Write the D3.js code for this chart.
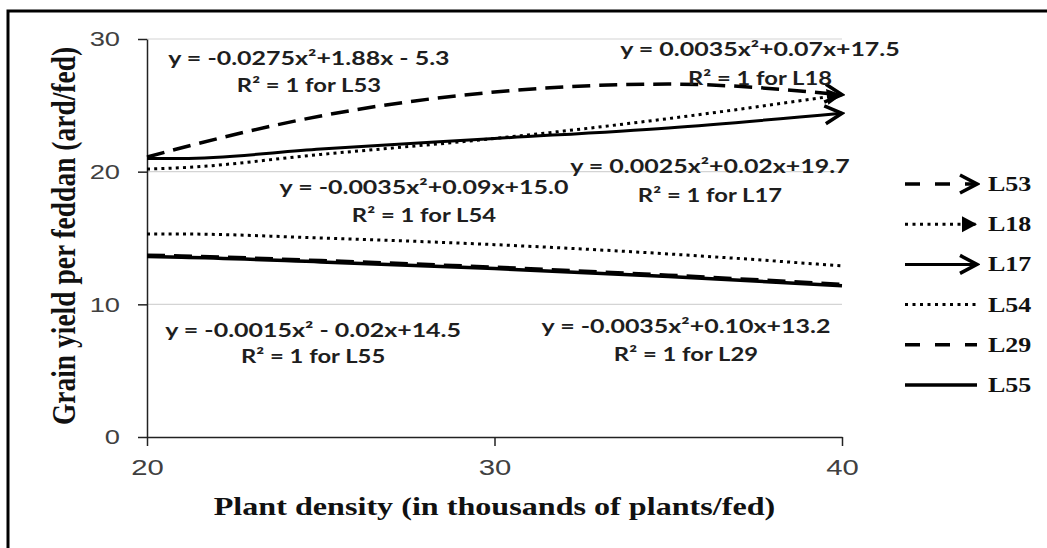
<!DOCTYPE html>
<html>
<head>
<meta charset="utf-8">
<script src="https://cdn.jsdelivr.net/npm/d3@7/dist/d3.min.js"></script>
<style>
  body { margin: 0; background: #fff; }
  svg { display: block; }
  .tick text { font-family: "Liberation Sans", Arial, sans-serif; fill: #404040; }
  .ann { font-family: Lato, "Open Sans", sans-serif; font-weight: 700; fill: #1e1e1e; font-size: 19.5px; }
  .title { font-family: "Liberation Serif", "Times New Roman", serif; font-weight: 700; fill: #111; }
</style>
</head>
<body>
<div id="chart"></div>
<script>
// plant density (thousands of plants/fed)
var densities = [20, 21, 25, 30, 35, 40];

// grain yield (ard/fed)
var yieldL53 = [21.1, 21.8, 24.2, 26.0, 26.6, 25.8];
var yieldL18 = [20.2, 20.3, 21.3, 22.5, 24.0, 25.8];
var yieldL17 = [21.0, 21.0, 21.7, 22.5, 23.3, 24.4];
var yieldL54 = [15.3, 15.3, 15.0, 14.5, 13.8, 12.9];
var yieldL29 = [13.7, 13.65, 13.3, 12.8, 12.2, 11.5];
var yieldL55 = [13.6, 13.55, 13.2, 12.7, 12.1, 11.4];

var seriesNames = ["L53", "L18", "L17", "L54", "L29", "L55"];
var seriesValues = [yieldL53, yieldL18, yieldL17, yieldL54, yieldL29, yieldL55];

var xTicks = [20, 30, 40];
var yTicks = [0, 10, 20, 30];

// trend equations, anchored in data units
var equations = [
  {l1: "y = -0.0275x²+1.88x - 5.3", l2: "R² = 1 for L53", x: 24.66, y1: 28.03, y2: 26.0},
  {l1: "y = 0.0035x²+0.07x+17.5", l2: "R² = 1 for L18", x: 37.64, y1: 28.71, y2: 26.53},
  {l1: "y = 0.0025x²+0.02x+19.7", l2: "R² = 1 for L17", x: 36.2, y1: 19.89, y2: 17.71},
  {l1: "y = -0.0035x²+0.09x+15.0", l2: "R² = 1 for L54", x: 27.97, y1: 18.31, y2: 16.2},
  {l1: "y = -0.0015x² - 0.02x+14.5", l2: "R² = 1 for L55", x: 24.78, y1: 7.54, y2: 5.58},
  {l1: "y = -0.0035x²+0.10x+13.2", l2: "R² = 1 for L29", x: 35.51, y1: 7.84, y2: 5.73}
];

var width = 1047, height = 548;
var margin = {top: 39, right: 205, bottom: 111, left: 147};
var SX = 1.3; // the picture is stretched sideways

var styles = {
  L53: {dash: "18,9", w: 3.5, marker: "chev"},
  L18: {dash: "3,4.2", w: 3, marker: "tri"},
  L17: {dash: null, w: 3, marker: "chev"},
  L54: {dash: "3,4.2", w: 3, marker: null},
  L29: {dash: "18,9", w: 3.5, marker: null},
  L55: {dash: null, w: 3.5, marker: null}
};
var legendDash = {L53: "15,15", L18: "3,4.5", L17: null, L54: "3,4.5", L29: "15,15", L55: null};

function stretch(sel, k) {
  sel.each(function() {
    var w = this.getComputedTextLength();
    d3.select(this).attr("textLength", w * k).attr("lengthAdjust", "spacingAndGlyphs");
  });
}

var svg = d3.select("#chart").append("svg")
    .attr("width", width)
    .attr("height", height);

svg.append("rect").attr("width", width).attr("height", height).attr("fill", "#fff");

// outer frame (runs off the right and bottom edges)
svg.append("rect")
    .attr("x", 8).attr("y", 11)
    .attr("width", 1100).attr("height", 600)
    .attr("fill", "none").attr("stroke", "#000").attr("stroke-width", 3);

var defs = svg.append("defs");
defs.append("marker")
    .attr("id", "chev").attr("markerUnits", "userSpaceOnUse")
    .attr("viewBox", "0 0 24 24").attr("markerWidth", 24).attr("markerHeight", 24)
    .attr("refX", 21).attr("refY", 12).attr("orient", "auto")
  .append("path")
    .attr("d", "M4,3 L21,12 L4,21")
    .attr("fill", "none").attr("stroke", "#000").attr("stroke-width", 3.5);
defs.append("marker")
    .attr("id", "tri").attr("markerUnits", "userSpaceOnUse")
    .attr("viewBox", "0 0 24 24").attr("markerWidth", 24).attr("markerHeight", 24)
    .attr("refX", 20).attr("refY", 12).attr("orient", "auto")
  .append("path")
    .attr("d", "M5,4 L20,12 L5,20 Z")
    .attr("fill", "#000");

var Chartwidth = width - margin.left - margin.right,
    Chartheight = height - margin.top - margin.bottom;

var x = d3.scaleLinear().domain([20, 40]).range([0, Chartwidth]);
var y = d3.scaleLinear().domain([0, 30]).range([Chartheight, 0]);

var g = svg.append("g")
    .attr("transform", "translate(" + margin.left + "," + margin.top + ")");

// gridlines
g.append("g").selectAll("line")
    .data(yTicks.filter(function(d) { return d > 0; }))
  .enter().append("line")
    .attr("x1", 0).attr("x2", Chartwidth)
    .attr("y1", function(d) { return y(d); }).attr("y2", function(d) { return y(d); })
    .attr("stroke", "#d4d4d4").attr("stroke-width", 1.2);

var yAxis = g.append("g")
    .attr("class", "y axis")
    .call(d3.axisLeft(y).tickValues(yTicks).tickSizeInner(9).tickSizeOuter(0).tickPadding(18));
yAxis.selectAll(".tick text").attr("font-size", 21).call(stretch, SX);

var xAxis = g.append("g")
    .attr("class", "x axis")
    .attr("transform", "translate(0," + Chartheight + ")")
    .call(d3.axisBottom(x).tickValues(xTicks).tickSizeInner(9).tickSizeOuter(0).tickPadding(13));
xAxis.selectAll(".tick text").attr("font-size", 22.5).call(stretch, SX);

g.selectAll(".axis path, .axis line").attr("stroke", "#222").attr("stroke-width", 1.5);

// series
var line = d3.line()
    .x(function(d) { return x(d[0]); })
    .y(function(d) { return y(d[1]); })
    .curve(d3.curveMonotoneX);

var order = ["L54", "L55", "L29", "L18", "L17", "L53"];
order.forEach(function(name) {
  var vals = seriesValues[seriesNames.indexOf(name)];
  var pts = densities.map(function(d, i) { return [d, vals[i]]; });
  var s = styles[name];
  g.append("path")
      .datum(pts)
      .attr("class", "series " + name)
      .attr("d", line)
      .attr("fill", "none")
      .attr("stroke", "#000")
      .attr("stroke-width", s.w)
      .attr("stroke-dasharray", s.dash)
      .attr("marker-end", s.marker ? "url(#" + s.marker + ")" : null);
});

// equation labels
equations.forEach(function(e) {
  g.append("text").attr("class", "ann")
      .attr("x", x(e.x)).attr("y", y(e.y1))
      .attr("text-anchor", "middle")
      .text(e.l1).call(stretch, 1.28);
  g.append("text").attr("class", "ann")
      .attr("x", x(e.x)).attr("y", y(e.y2))
      .attr("text-anchor", "middle")
      .text(e.l2).call(stretch, 1.22);
});

// axis titles
svg.append("text").attr("class", "title")
    .attr("x", margin.left + Chartwidth / 2).attr("y", 515)
    .attr("text-anchor", "middle").attr("font-size", 25.5)
    .text("Plant density (in thousands of plants/fed)")
    .call(stretch, 1.26);

svg.append("text").attr("class", "title")
    .attr("transform", "translate(75," + (margin.top + 197) + ") rotate(-90) scale(1,1.2)")
    .attr("text-anchor", "middle").attr("font-size", 27.5)
    .text("Grain yield  per feddan (ard/fed)");

// legend
var legend = svg.append("g").attr("transform", "translate(905,184)");
seriesNames.forEach(function(name, i) {
  var row = legend.append("g").attr("transform", "translate(0," + (i * 40.2) + ")");
  var s = styles[name];
  row.append("line")
      .attr("x1", 0).attr("x2", 72).attr("y1", 0).attr("y2", 0)
      .attr("stroke", "#000").attr("stroke-width", s.w)
      .attr("stroke-dasharray", legendDash[name])
      .attr("marker-end", s.marker ? "url(#" + s.marker + ")" : null);
  row.append("text").attr("class", "title")
      .attr("x", 83).attr("y", 7)
      .attr("font-size", 20)
      .text(name).call(stretch, 1.3);
});
</script>
</body>
</html>
